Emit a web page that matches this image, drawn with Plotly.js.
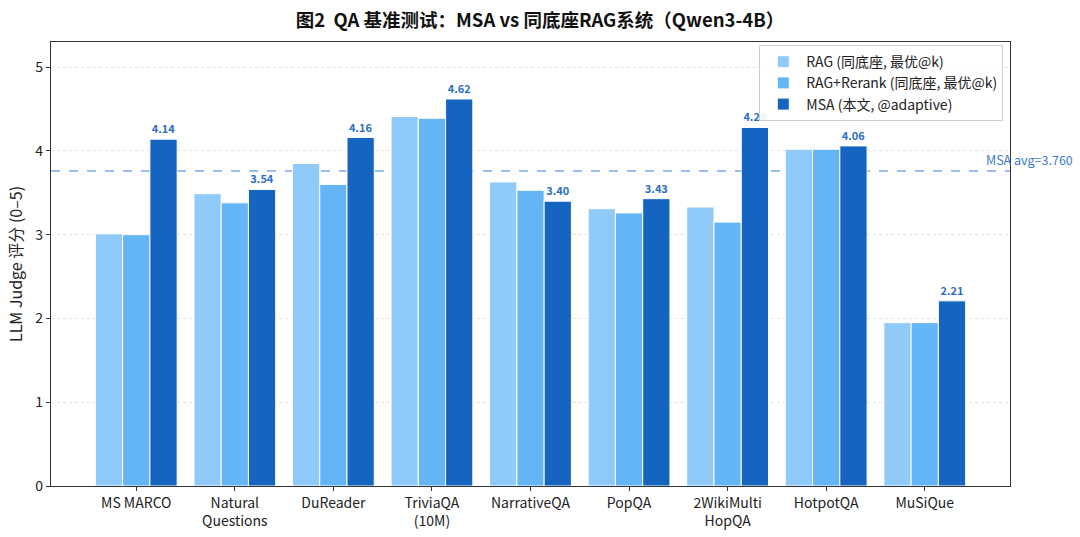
<!DOCTYPE html>
<html>
<head>
<meta charset="utf-8">
<script src="https://cdn.plot.ly/plotly-3.0.1.min.js"></script>
<style>html,body{margin:0;padding:0;background:#fff;}#chart{width:1080px;height:537px;}</style>
</head>
<body>
<div id="chart"></div>
<script>
const categories = ["MS MARCO", "Natural<br>Questions", "DuReader", "TriviaQA<br>(10M)", "NarrativeQA", "PopQA", "2WikiMulti<br>HopQA", "HotpotQA", "MuSiQue"];
const ragValues = [3.01, 3.49, 3.85, 4.41, 3.63, 3.31, 3.33, 4.02, 1.95];
const rerankValues = [3.00, 3.38, 3.60, 4.39, 3.53, 3.26, 3.15, 4.02, 1.95];
const msaValues = [4.14, 3.54, 4.16, 4.62, 3.40, 3.43, 4.28, 4.06, 2.21];
const seriesNames = ["RAG (同底座, 最优@k)", "RAG+Rerank (同底座, 最优@k)", "MSA (本文, @adaptive)"];
const seriesColors = ["#90CAF9", "#64B5F6", "#1565C0"];
const yTicks = [0, 1, 2, 3, 4, 5];

const FONT = '"Noto Sans CJK SC", "Noto Sans", sans-serif';
const msaAvg = msaValues.reduce((a, b) => a + b, 0) / msaValues.length;
const idx = categories.map((_, i) => i);

function barTrace(vals, k, withText) {
  const t = {
    type: 'bar', x: idx, y: vals, name: seriesNames[k],
    marker: {color: seriesColors[k], line: {color: '#ffffff', width: 1}},
    hoverinfo: 'skip'
  };
  if (withText) {
    t.text = vals.map(v => v.toFixed(2));
    t.textposition = 'outside';
    t.cliponaxis = false;
    t.textfont = {family: FONT, size: 11, color: '#2A6FC4', weight: 'bold'};
    t.texttemplate = '<b>%{text}</b>';
  }
  return t;
}

const data = [
  barTrace(ragValues, 0, false),
  barTrace(rerankValues, 1, false),
  barTrace(msaValues, 2, true)
];

const layout = {
  width: 1080, height: 537,
  margin: {l: 51, r: 70, t: 42, b: 51},
  paper_bgcolor: '#ffffff', plot_bgcolor: '#ffffff',
  font: {family: FONT, color: '#222'},
  title: {text: '<b>图2  QA 基准测试：MSA vs 同底座RAG系统（Qwen3-4B）</b>', x: 0.5, xref: 'container', y: 0.962, yanchor: 'middle', font: {family: FONT, size: 18.5, color: '#111'}},
  barmode: 'group', bargap: 0.17, bargroupgap: 0,
  xaxis: {
    range: [-0.865, 8.865], tickmode: 'array', tickvals: idx, ticktext: categories,
    showgrid: false, zeroline: false, showline: true, linecolor: '#333', linewidth: 1.2, mirror: true,
    ticks: 'outside', ticklen: 4, tickcolor: '#333', tickfont: {family: FONT, size: 14, color: '#222'}
  },
  yaxis: {
    range: [0, 5.3], tickmode: 'array', tickvals: yTicks, ticktext: yTicks.map(String),
    showgrid: true, gridcolor: '#e2e2e2', griddash: 'dot', gridwidth: 1, zeroline: false,
    showline: true, linecolor: '#333', linewidth: 1.2, mirror: true,
    ticks: 'outside', ticklen: 4, tickcolor: '#333', tickfont: {family: FONT, size: 14, color: '#222'},
    title: {text: 'LLM Judge 评分 (0–5)', font: {family: FONT, size: 16, color: '#222'}, standoff: 8}
  },
  legend: {
    x: 0.993, y: 0.993, xanchor: 'right', yanchor: 'top',
    bgcolor: 'rgba(255,255,255,0.9)', bordercolor: '#cccccc', borderwidth: 1,
    font: {family: FONT, size: 14, color: '#222'}, tracegroupgap: 0, itemwidth: 36
  },
  shapes: [{
    type: 'line', xref: 'paper', x0: 0, x1: 1, yref: 'y', y0: msaAvg, y1: msaAvg,
    line: {color: '#7AABEA', width: 1.5, dash: 'dash'}, layer: 'below'
  }],
  annotations: [{
    xref: 'paper', x: 0.973, xanchor: 'left', yref: 'y', y: msaAvg, yanchor: 'bottom', yshift: 0,
    text: 'MSA avg=' + msaAvg.toFixed(3), showarrow: false,
    font: {family: FONT, size: 12.5, color: '#3D7CC9'}
  }]
};

Plotly.newPlot('chart', data, layout, {displayModeBar: false, staticPlot: true});
</script>
</body>
</html>
